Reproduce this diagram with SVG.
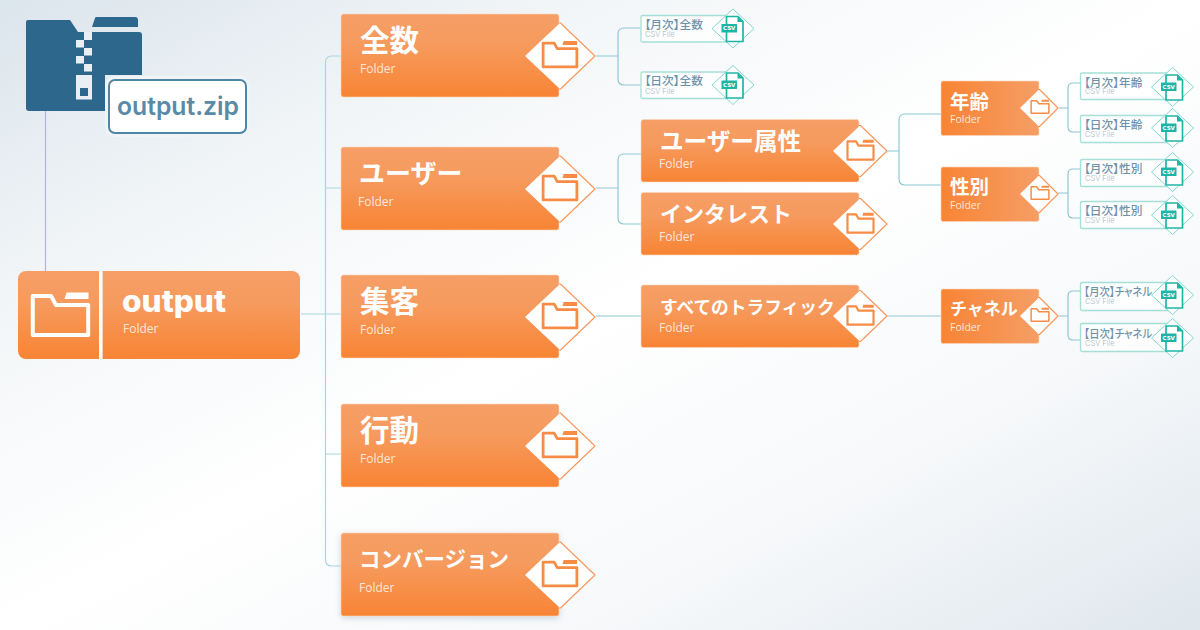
<svg xmlns="http://www.w3.org/2000/svg" width="1200" height="630" viewBox="0 0 1200 630">
<style>
.t{font-family:"Noto Sans CJK JP","Noto Sans",sans-serif;font-weight:700;fill:#fff}
.f{font-family:"Open Sans","Liberation Sans",sans-serif;font-weight:400;fill:#fff;fill-opacity:.8;font-size:12px}
.fs{font-size:10.5px}
.n{font-family:"Noto Sans CJK JP","Noto Sans",sans-serif;font-weight:500;font-size:11.7px;fill:#6f92a9;font-feature-settings:"palt"}
.c{font-family:"Inter","Liberation Sans",sans-serif;font-weight:300;font-size:7.500px;fill:#a9bac6}
.g{font-family:"DejaVu Sans",sans-serif;font-weight:700;font-size:5.500px;fill:#fff;text-anchor:middle}
.box{fill:url(#v);stroke:#fbd6bc;stroke-width:.6}
.boxh{fill:url(#h);stroke:#fbd6bc;stroke-width:.6}
.dw{fill:#fff;stroke:#fff;stroke-width:1.500;stroke-linejoin:round}
.dl{fill:none;stroke:#f8965a;stroke-width:1.100;stroke-linejoin:round;stroke-linecap:round}
.ic{color:#f68c45;stroke-width:4.600}
.file{fill:#fff;fill-opacity:.75;stroke:#a5dfd8;stroke-width:1.300}
.fd{fill:#fff;stroke:#7fd8cd;stroke-width:1;stroke-linejoin:round}
.con{fill:none;stroke:#8fc7d6;stroke-width:1.200}
</style>
<defs>
<linearGradient id="bg" x1="0" y1="0" x2="1" y2="1"><stop offset="0" stop-color="#dbe5ec"/><stop offset=".25" stop-color="#f3f6f8"/><stop offset=".5" stop-color="#fff"/><stop offset=".75" stop-color="#f6f8fa"/><stop offset="1" stop-color="#dfe7ed"/></linearGradient>
<linearGradient id="v" x1="0" y1="0" x2="0" y2="1"><stop offset="0" stop-color="#f59e66"/><stop offset=".35" stop-color="#f69b5f"/><stop offset="1" stop-color="#f88434"/></linearGradient>
<linearGradient id="h" x1="0" y1="0" x2="1" y2="0"><stop offset="0" stop-color="#f88434"/><stop offset="1" stop-color="#f59e66"/></linearGradient>
<filter id="sh" x="-5%" y="-5%" width="110%" height="125%"><feDropShadow dx="0" dy="2" stdDeviation="3" flood-color="#7a93a5" flood-opacity=".35"/></filter>
<g id="folder"><path d="M-27.700,-19.500H-9.500L-4.500,-10.500H27.700V19.500H-27.700Z" fill="none" stroke="currentColor" stroke-linejoin="round"/><path d="M4,-16.500L6,-23H28V-16.500Z" fill="currentColor" stroke="none"/></g>
<g id="doc"><path d="M-6.500,-12H5L10,-7V13H-6.500Z" fill="#fff" stroke="#1fb5a6" stroke-width="1.700" stroke-linejoin="round"/><path d="M4.500,-12V-6.500H10Z" fill="#1fb5a6"/><rect x="-11.500" y="-4.500" width="15.500" height="8.500" rx=".6" fill="#1fb5a6"/></g>
<polygon id="d1" class="fd" points="0,-19.500 21,0 0,19.500 -21,0"/>
<g id="db"><polygon class="dw" points="0,-32.500 34.500,0 0,32.500 -34.500,0"/><polyline class="dl" points="-1,-33 0,-33 34.500,0 0,33 -1,33"/></g>
<g id="dm"><polygon class="dw" points="0,-25 26.500,0 0,25 -26.500,0"/><polyline class="dl" points="-1,-25.500 0,-25.500 26.500,0 0,25.500 -1,25.500"/></g>
<g id="ds"><polygon class="dw" points="0,-18 18.500,0 0,18 -18.500,0"/><polyline class="dl" points="-1,-18.500 0,-18.500 18.500,0 0,18.500 -1,18.500"/></g>
</defs>
<rect width="1200" height="630" fill="url(#bg)"/>

<g id="connectors" class="con">
<path d="M45.500,110V271"/>
<path d="M301,314H341M341,56H332Q325.500,56 325.500,62.500V559.500Q325.500,566 332,566H341M325.500,188H341M325.500,454H341" stroke="#a8d5e0"/>
<path d="M596,56H618M640,28H624Q618,28 618,34V79Q618,85 624,85H640"/>
<path d="M596,188H618M641,154H624Q618,154 618,160V218Q618,224 624,224H641"/>
<path d="M596,316H641"/>
<path d="M887,316H941"/>
<path d="M887,151H899M941,114H905Q899,114 899,120V179Q899,185 905,185H941"/>
<path d="M1058,108H1068M1080,83H1073Q1068,83 1068,88V127Q1068,132 1073,132H1080"/>
<path d="M1058,193H1068M1080,169H1073Q1068,169 1068,174V213Q1068,218 1073,218H1080"/>
<path d="M1058,316H1068M1080,291H1073Q1068,291 1068,296V335Q1068,340 1073,340H1080"/>
</g>

<g id="zip">
<path d="M28,20H70L78,32H139Q142,32 142,35V75H105V111H29Q26,111 26,108V22Q26,20 28,20Z" fill="#2d688c"/>
<path d="M92,27L95,18Q95,17 97,17H135Q138,17 138,20V27Z" fill="#2d688c"/>
<g fill="#e9eff3"><rect x="84" y="32" width="8" height="8"/><rect x="76" y="40" width="8" height="7.500"/><rect x="84" y="48" width="8" height="7.500"/><rect x="76" y="56" width="8" height="7.500"/><rect x="84" y="64" width="8" height="7.500"/><rect x="76" y="75" width="16" height="24.500"/></g>
<rect x="80" y="88" width="8" height="8" fill="#2d688c"/>
<rect x="105" y="76" width="145" height="61" rx="9" fill="#f0f4f6"/>
<rect x="109" y="80" width="137" height="53" rx="6" fill="#fff" stroke="#4f86a6" stroke-width="2"/>
<text x="117" y="115" font-family="Inter,sans-serif" font-weight="600" font-size="25.500" fill="#5a8aa6" textLength="122" lengthAdjust="spacingAndGlyphs">output.zip</text>
</g>

<g id="output">
<rect x="18" y="271" width="282" height="88" rx="8" fill="url(#v)"/>
<rect x="99" y="271" width="3.600" height="88" fill="#fff"/>
<use href="#folder" transform="translate(60.500,315.500)" color="#fff" stroke-width="4"/>
<text x="122" y="312" font-family="Inter,sans-serif" font-weight="800" font-size="30" fill="#fff" textLength="104" lengthAdjust="spacingAndGlyphs">output</text>
<text x="123" y="333" class="f">Folder</text>
</g>

<g id="n-zensu"><rect class="box" x="341" y="14" width="218" height="83" rx="2.500"/><use href="#db" x="560.500" y="56"/><use class="ic" href="#folder" transform="translate(560,55) scale(.61)"/><text class="t" x="360" y="51" font-size="29.500">全数</text><text class="f" x="360" y="73">Folder</text></g>
<g id="n-user"><rect class="box" x="341" y="147" width="218" height="83" rx="2.500"/><use href="#db" x="560.500" y="189"/><use class="ic" href="#folder" transform="translate(560,188) scale(.61)"/><text class="t" x="359" y="183" font-size="26">ユーザー</text><text class="f" x="358" y="206">Folder</text></g>
<g id="n-shukyaku"><rect class="box" x="341" y="275" width="218" height="83" rx="2.500"/><use href="#db" x="560.500" y="317"/><use class="ic" href="#folder" transform="translate(560,316) scale(.61)"/><text class="t" x="360" y="312" font-size="29.500">集客</text><text class="f" x="360" y="334">Folder</text></g>
<g id="n-kodo"><rect class="box" x="341" y="404" width="218" height="83" rx="2.500"/><use href="#db" x="560.500" y="446"/><use class="ic" href="#folder" transform="translate(560,445) scale(.61)"/><text class="t" x="360" y="441" font-size="29.500">行動</text><text class="f" x="360" y="463">Folder</text></g>
<g id="n-cv"><rect class="box" x="341" y="533" width="218" height="83" rx="2.500" filter="url(#sh)"/><use href="#db" x="560.500" y="575"/><use class="ic" href="#folder" transform="translate(560,574) scale(.61)"/><text class="t" x="359" y="567" font-size="21.500">コンバージョン</text><text class="f" x="359" y="592">Folder</text></g>

<g id="n-attr"><rect class="box" x="641" y="119.500" width="218" height="62.500" rx="2.500"/><use href="#dm" x="860.500" y="151"/><use class="ic" href="#folder" transform="translate(860.500,150.500) scale(.47)"/><text class="t" x="660" y="150" font-size="23.600">ユーザー属性</text><text class="f" x="659" y="168">Folder</text></g>
<g id="n-interest"><rect class="box" x="641" y="192.500" width="218" height="62.500" rx="2.500"/><use href="#dm" x="860.500" y="224"/><use class="ic" href="#folder" transform="translate(860.500,223.500) scale(.47)"/><text class="t" x="660" y="222" font-size="22">インタレスト</text><text class="f" x="659" y="241">Folder</text></g>
<g id="n-traffic"><rect class="box" x="641" y="285" width="218" height="62.500" rx="2.500"/><use href="#dm" x="860.500" y="316"/><use class="ic" href="#folder" transform="translate(860.500,315.500) scale(.47)"/><text class="t" x="660" y="314" font-size="17.700">すべてのトラフィック</text><text class="f" x="659" y="332">Folder</text></g>

<g id="n-age"><rect class="boxh" x="941" y="81" width="98" height="54.500" rx="2"/><use href="#ds" x="1039.500" y="108"/><use class="ic" href="#folder" transform="translate(1040,107) scale(.32)"/><text class="t" x="950" y="108.500" font-size="19.500">年齢</text><text class="f fs" x="950" y="123">Folder</text></g>
<g id="n-gender"><rect class="boxh" x="941" y="167" width="98" height="54.500" rx="2"/><use href="#ds" x="1039.500" y="194"/><use class="ic" href="#folder" transform="translate(1040,193) scale(.32)"/><text class="t" x="950" y="194" font-size="19.500">性別</text><text class="f fs" x="950" y="209">Folder</text></g>
<g id="n-channel"><rect class="boxh" x="941" y="289" width="98" height="54.500" rx="2"/><use href="#ds" x="1039.500" y="316"/><use class="ic" href="#folder" transform="translate(1040,315) scale(.32)"/><text class="t" x="950" y="315" font-size="17">チャネル</text><text class="f fs" x="950" y="331">Folder</text></g>

<g id="file-1"><rect class="file" x="641" y="15.500" width="90" height="26.500" rx="1.500"/><text class="n" x="644.500" y="28.500">【月次】全数</text><text class="c" x="645" y="37">CSV File</text><use href="#d1" x="733" y="28.500"/><use href="#doc" x="733" y="28.500"/><text class="g" x="729.200" y="30">CSV</text></g>
<g id="file-2"><rect class="file" x="641" y="72" width="90" height="26.500" rx="1.500"/><text class="n" x="644.500" y="85">【日次】全数</text><text class="c" x="645" y="93.500">CSV File</text><use href="#d1" x="733" y="85"/><use href="#doc" x="733" y="85"/><text class="g" x="729.200" y="86.500">CSV</text></g>

<g id="file-3"><rect class="file" x="1080.500" y="73" width="90" height="26.500" rx="1.500"/><text class="n" x="1084" y="86.500">【月次】年齢</text><text class="c" x="1085" y="94">CSV File</text><use href="#d1" x="1172.500" y="87"/><use href="#doc" x="1172.500" y="87"/><text class="g" x="1168.700" y="88.500">CSV</text></g>
<g id="file-4"><rect class="file" x="1080.500" y="115.500" width="90" height="27" rx="1.500"/><text class="n" x="1084" y="129">【日次】年齢</text><text class="c" x="1085" y="136.500">CSV File</text><use href="#d1" x="1172.500" y="128"/><use href="#doc" x="1172.500" y="128"/><text class="g" x="1168.700" y="129.500">CSV</text></g>
<g id="file-5"><rect class="file" x="1080.500" y="159.500" width="90" height="27" rx="1.500"/><text class="n" x="1084" y="173">【月次】性別</text><text class="c" x="1085" y="180.500">CSV File</text><use href="#d1" x="1172.500" y="172"/><use href="#doc" x="1172.500" y="172"/><text class="g" x="1168.700" y="173.500">CSV</text></g>
<g id="file-6"><rect class="file" x="1080.500" y="201.500" width="90" height="27" rx="1.500"/><text class="n" x="1084" y="215">【日次】性別</text><text class="c" x="1085" y="222.500">CSV File</text><use href="#d1" x="1172.500" y="215"/><use href="#doc" x="1172.500" y="215"/><text class="g" x="1168.700" y="216.500">CSV</text></g>
<g id="file-7"><rect class="file" x="1080.500" y="282.500" width="90" height="28" rx="1.500"/><text class="n" x="1084" y="296" textLength="68" lengthAdjust="spacingAndGlyphs">【月次】チャネル</text><text class="c" x="1085" y="304">CSV File</text><use href="#d1" x="1172.500" y="295"/><use href="#doc" x="1172.500" y="295"/><text class="g" x="1168.700" y="296.500">CSV</text></g>
<g id="file-8"><rect class="file" x="1080.500" y="323.500" width="90" height="28" rx="1.500"/><text class="n" x="1084" y="338" textLength="68" lengthAdjust="spacingAndGlyphs">【日次】チャネル</text><text class="c" x="1085" y="345.500">CSV File</text><use href="#d1" x="1172.500" y="338"/><use href="#doc" x="1172.500" y="338"/><text class="g" x="1168.700" y="339.500">CSV</text></g>
</svg>
